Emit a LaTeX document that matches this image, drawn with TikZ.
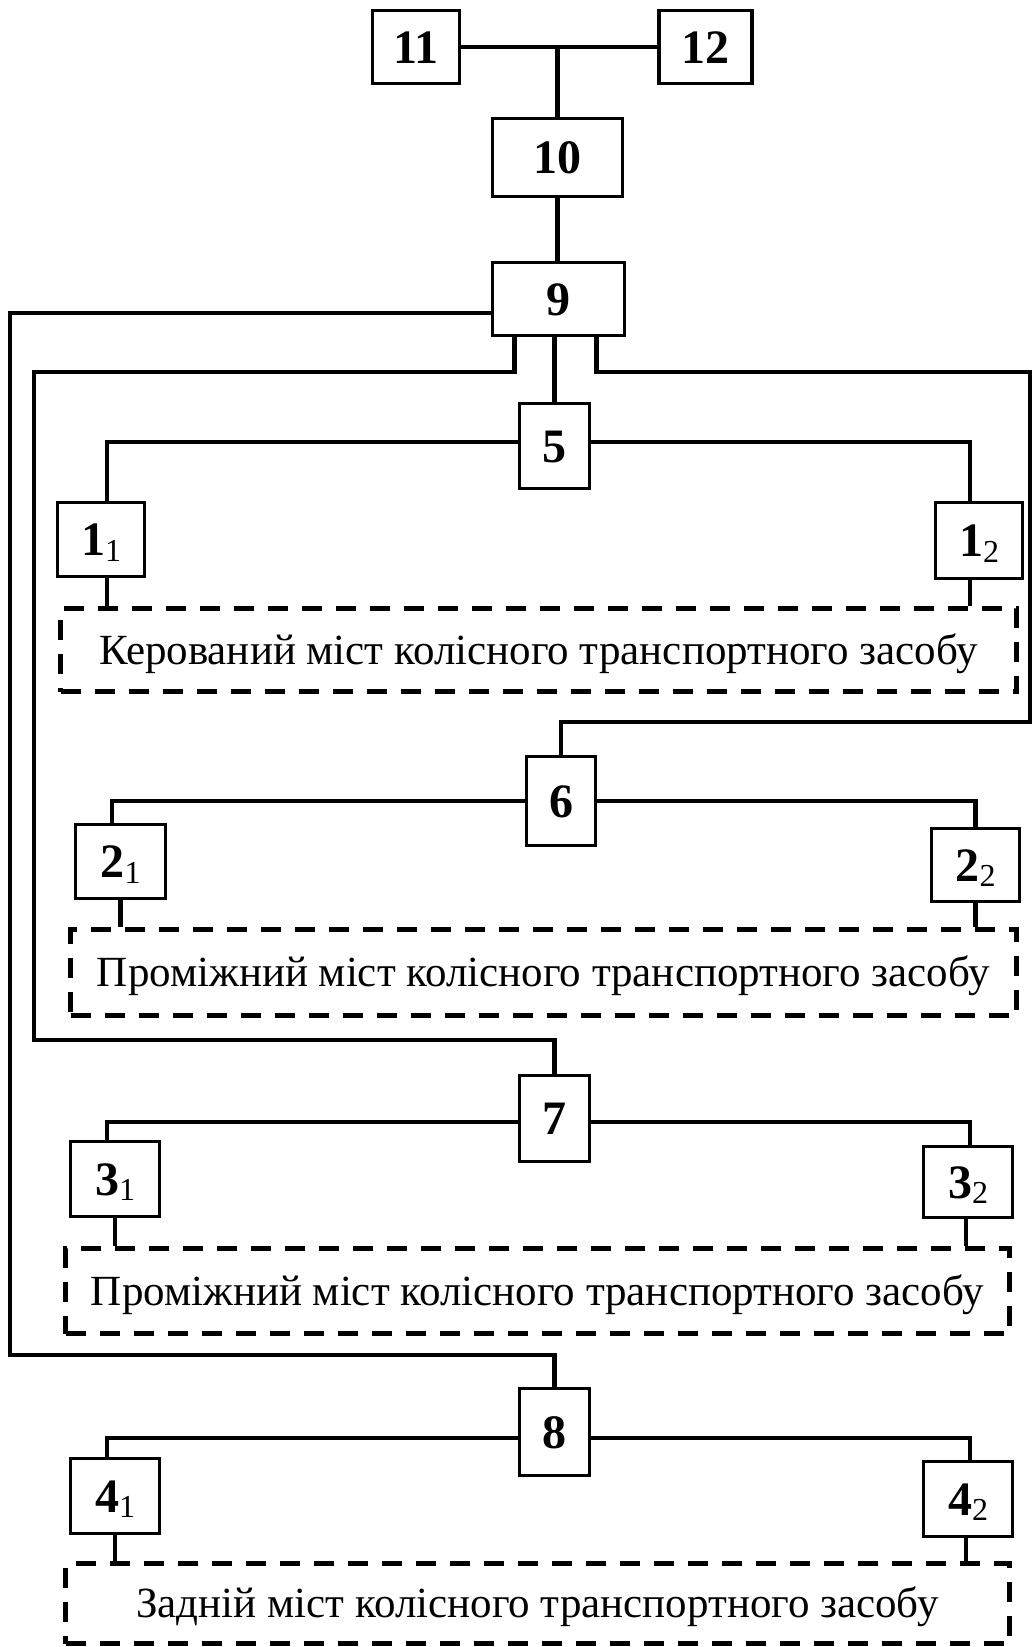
\documentclass[tikz,border=0pt]{standalone}
\usepackage{fontspec}
\setmainfont{Liberation Serif}
\newcommand{\lbsub}[2]{#1\raisebox{-0.25ex}{\fontsize{32}{32}\selectfont\mdseries #2}}
\begin{document}
\begin{tikzpicture}[x=1pt,y=-1pt,
  blk/.style={draw, line width=3.5pt, inner sep=0pt, text height=32pt, text depth=0pt,
              font=\fontsize{48}{52}\selectfont\bfseries},
  bx/.style 2 args={minimum width=#1pt, minimum height=#2pt},
  conn/.style={line width=4.5pt},
  axle/.style={draw, line width=4.5pt, dash pattern=on 20pt off 14pt, inner sep=0pt,
               text height=28pt, text depth=0pt, font=\fontsize{43}{48}\selectfont}]
\useasboundingbox (0,0) rectangle (1033,1647);

% blocks
\node[blk, bx={87}{73}] (n11) at (416,47) {11};
\node[blk, bx={93}{73}] (n12) at (705.5,47) {12};
\node[blk, bx={130}{78}] (n10) at (557.5,157.5) {10};
\node[blk, bx={132}{73}] (n9) at (558.5,299) {9};
\node[blk, bx={70}{85}] (n5) at (554.5,446) {5};
\node[blk, bx={87}{74}] (n11b) at (101,539.5) {\lbsub{1}{1}};
\node[blk, bx={87}{76}] (n12b) at (979,540.5) {\lbsub{1}{2}};
\node[blk, bx={69}{89}] (n6) at (561,801) {6};
\node[blk, bx={90}{74}] (n21) at (120.5,861.5) {\lbsub{2}{1}};
\node[blk, bx={88}{73}] (n22) at (975.5,865) {\lbsub{2}{2}};
\node[blk, bx={70}{86}] (n7) at (554.5,1118.5) {7};
\node[blk, bx={89}{75}] (n31) at (115,1179) {\lbsub{3}{1}};
\node[blk, bx={89}{71}] (n32) at (968,1182) {\lbsub{3}{2}};
\node[blk, bx={70}{87}] (n8) at (554.5,1432) {8};
\node[blk, bx={89}{75}] (n41) at (115,1496) {\lbsub{4}{1}};
\node[blk, bx={89}{75}] (n42) at (968,1499) {\lbsub{4}{2}};

% axles
\node[axle, bx={956}{83}] (d1) at (538.5,650) {Керований міст колісного транспортного засобу};
\node[axle, bx={946}{86}] (d2) at (543.5,972.5) {Проміжний міст колісного транспортного засобу};
\node[axle, bx={944}{85}] (d3) at (537.5,1291) {Проміжний міст колісного транспортного засобу};
\node[axle, bx={944}{80}] (d4) at (537.5,1603.5) {Задній міст колісного транспортного засобу};

% top connectors
\draw[conn] (n11) -- (n12);
\draw[conn] (n10.north) -- (n10.north |- n11);
\draw[conn] (n10.south) -- (n10.south |- n9.north);
\draw[conn] (n5.north) -- (n5.north |- n9.south);

\coordinate (o1) at (10,1355);
\draw[conn] ([yshift=-14pt]n9.west) -| (o1) -| (n8.north);
\coordinate (o2a) at (34,372);
\coordinate (o2b) at (34,1040);
\draw[conn] ([xshift=-44pt]n9.south) |- (o2a) -- (o2b) -| (n7.north);
\coordinate (o3a) at (1030,372);
\coordinate (o3b) at (1030,722);
\draw[conn] ([xshift=38pt]n9.south) |- (o3a) -- (o3b) -| (n6.north);

% group 5
\draw[conn] ([yshift=4pt]n5.west) -| ([xshift=6pt]n11b.north);
\draw[conn] ([yshift=4pt]n5.east) -| ([xshift=-9pt]n12b.north);
\path ([xshift=6pt]n11b.south) coordinate (s1a);
\path ([xshift=-9pt]n12b.south) coordinate (s1b);
\draw[conn] (s1a) -- (s1a |- d1.north);
\draw[conn] (s1b) -- (s1b |- d1.north);

% group 6
\draw[conn] (n6.west) -| ([xshift=-8.5pt]n21.north);
\draw[conn] (n6.east) -| (n22.north);
\draw[conn] (n21.south) -- (n21.south |- d2.north);
\draw[conn] (n22.south) -- (n22.south |- d2.north);

% group 7
\draw[conn] ([yshift=-3.5pt]n7.west) -| ([xshift=-8pt]n31.north);
\draw[conn] ([yshift=-3.5pt]n7.east) -| ([xshift=2pt]n32.north);
\path ([xshift=-2pt]n32.south) coordinate (s3b);
\draw[conn] (n31.south) -- (n31.south |- d3.north);
\draw[conn] (s3b) -- (s3b |- d3.north);

% group 8
\draw[conn] ([yshift=-6pt]n8.west) -| ([xshift=-8pt]n41.north);
\draw[conn] ([yshift=-6pt]n8.east) -| ([xshift=2pt]n42.north);
\path ([xshift=-2pt]n42.south) coordinate (s4b);
\draw[conn] (n41.south) -- (n41.south |- d4.north);
\draw[conn] (s4b) -- (s4b |- d4.north);
\end{tikzpicture}
\end{document}
